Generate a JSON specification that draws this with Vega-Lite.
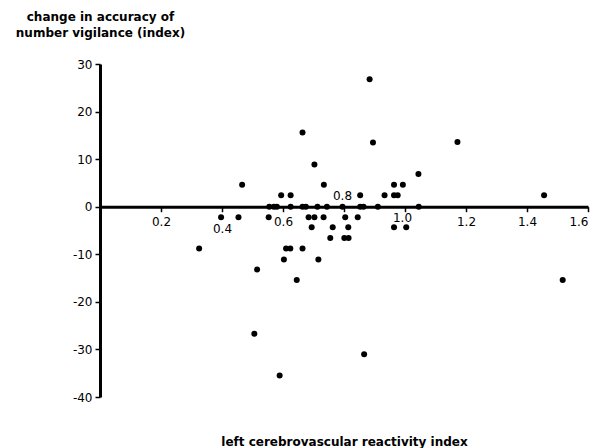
{
  "$schema": "https://vega.github.io/schema/vega-lite/v6.json",
  "autosize": {"type": "none"},
  "padding": {"left": 100, "top": 64, "right": 11, "bottom": 51},
  "width": 488,
  "height": 333,
  "background": "white",
  "config": {
    "view": {"stroke": null},
    "font": "DejaVu Sans",
    "axis": {"grid": false, "domainColor": "black", "tickColor": "black", "labelColor": "black", "titleColor": "black", "labelFont": "DejaVu Sans", "titleFont": "DejaVu Sans"}
  },
  "data": {"values": [
    {"cvr": 0.664, "change": 15.6},
    {"cvr": 0.703, "change": 8.9},
    {"cvr": 0.466, "change": 4.6},
    {"cvr": 0.734, "change": 4.6},
    {"cvr": 0.594, "change": 2.4},
    {"cvr": 0.625, "change": 2.4},
    {"cvr": 0.853, "change": 2.4},
    {"cvr": 0.884, "change": 26.8},
    {"cvr": 0.895, "change": 13.5},
    {"cvr": 1.172, "change": 13.6},
    {"cvr": 1.044, "change": 6.9},
    {"cvr": 0.964, "change": 4.6},
    {"cvr": 0.993, "change": 4.6},
    {"cvr": 0.933, "change": 2.4},
    {"cvr": 0.964, "change": 2.4},
    {"cvr": 0.976, "change": 2.4},
    {"cvr": 1.456, "change": 2.4},
    {"cvr": 0.555, "change": 0},
    {"cvr": 0.57, "change": 0},
    {"cvr": 0.58, "change": 0},
    {"cvr": 0.625, "change": 0},
    {"cvr": 0.664, "change": 0},
    {"cvr": 0.675, "change": 0},
    {"cvr": 0.713, "change": 0},
    {"cvr": 0.744, "change": 0},
    {"cvr": 0.795, "change": 0},
    {"cvr": 0.853, "change": 0},
    {"cvr": 0.864, "change": 0},
    {"cvr": 0.911, "change": 0},
    {"cvr": 1.045, "change": 0},
    {"cvr": 0.397, "change": -2.2},
    {"cvr": 0.454, "change": -2.2},
    {"cvr": 0.553, "change": -2.2},
    {"cvr": 0.684, "change": -2.2},
    {"cvr": 0.703, "change": -2.2},
    {"cvr": 0.733, "change": -2.2},
    {"cvr": 0.804, "change": -2.2},
    {"cvr": 0.845, "change": -2.2},
    {"cvr": 0.694, "change": -4.3},
    {"cvr": 0.763, "change": -4.3},
    {"cvr": 0.814, "change": -4.3},
    {"cvr": 0.964, "change": -4.3},
    {"cvr": 1.004, "change": -4.3},
    {"cvr": 0.755, "change": -6.6},
    {"cvr": 0.801, "change": -6.6},
    {"cvr": 0.815, "change": -6.6},
    {"cvr": 0.325, "change": -8.8},
    {"cvr": 0.61, "change": -8.8},
    {"cvr": 0.624, "change": -8.8},
    {"cvr": 0.664, "change": -8.8},
    {"cvr": 0.603, "change": -11.1},
    {"cvr": 0.716, "change": -11.1},
    {"cvr": 0.515, "change": -13.2},
    {"cvr": 0.645, "change": -15.4},
    {"cvr": 1.517, "change": -15.4},
    {"cvr": 0.506, "change": -26.7},
    {"cvr": 0.866, "change": -31.0},
    {"cvr": 0.589, "change": -35.5}
  ]},
  "mark": {"type": "circle", "color": "black", "opacity": 1, "size": 36},
  "encoding": {
    "x": {
      "field": "cvr", "type": "quantitative",
      "scale": {"domain": [0, 1.6], "nice": false, "zero": false},
      "axis": {
        "orient": "bottom",
        "offset": -190.3,
        "values": [0.2, 0.4, 0.6, 0.8, 1.0, 1.2, 1.4, 1.6],
        "format": ".1f",
        "domainWidth": 3,
        "tickWidth": 1.5,
        "tickSize": 5,
        "labelFontSize": 12,
        "labelPadding": {"expr": "datum.value == 0.4 ? 12 : datum.value == 0.8 ? -21 : datum.value == 1 ? 1 : 5"},
        "labelOffset": {"expr": "datum.value == 0.8 ? -2 : datum.value == 1 ? -3 : 0"},
        "title": "left cerebrovascular reactivity index",
        "titleFontSize": 12,
        "titleFontWeight": "bold",
        "titleBaseline": "alphabetic",
        "titleY": 239,
        "titleX": 244,
        "titleAlign": "center",
        "titleAnchor": null
      }
    },
    "y": {
      "field": "change", "type": "quantitative",
      "scale": {"domain": [-40, 30], "nice": false, "zero": false},
      "axis": {
        "values": [-40, -30, -20, -10, 0, 10, 20, 30],
        "labelExpr": "replace(datum.label, '\u2212', '-')",
        "domainWidth": 3,
        "tickWidth": 1.5,
        "tickSize": 5,
        "labelFontSize": 12,
        "labelPadding": 3,
        "title": ["change in accuracy of", "number vigilance  (index)"],
        "titleFontSize": 12,
        "titleFontWeight": "bold",
        "titleAngle": 0,
        "titleAlign": "center",
        "titleBaseline": "top",
        "titleLineHeight": 16,
        "titleX": 0,
        "titleY": -53,
        "titleAnchor": null
      }
    }
  }
}
